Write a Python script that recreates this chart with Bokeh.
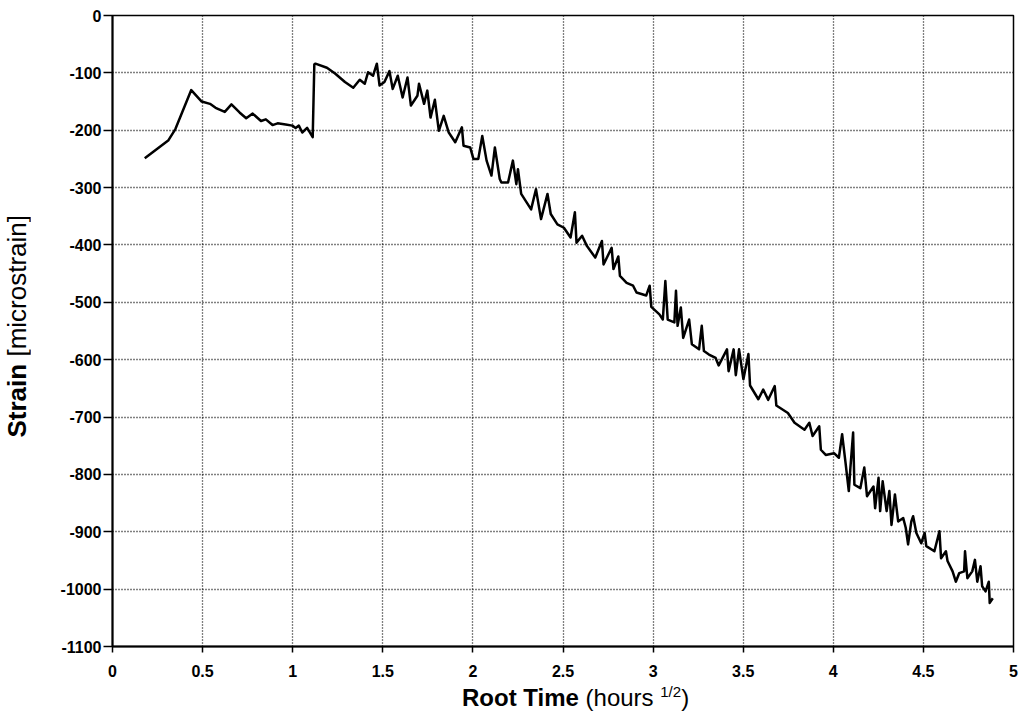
from bokeh.plotting import figure
from bokeh.models import Range1d, FixedTicker, Div
from bokeh.layouts import row, column
from bokeh.embed import file_html
from bokeh.resources import INLINE

# ---- data ----
root_time = [
    0.179, 0.309, 0.349, 0.437, 0.495, 0.541, 0.572, 0.623, 0.660, 0.705,
    0.742, 0.778, 0.824, 0.851, 0.888, 0.916, 0.961, 0.998, 1.016, 1.034,
    1.053, 1.080, 1.111, 1.120, 1.126, 1.190, 1.235, 1.290, 1.336, 1.372,
    1.400, 1.418, 1.446, 1.467, 1.482, 1.509, 1.537, 1.555, 1.583, 1.610,
    1.637, 1.656, 1.692, 1.701, 1.729, 1.747, 1.765, 1.789, 1.811, 1.838,
    1.866, 1.902, 1.939, 1.948, 1.985, 2.003, 2.030, 2.052, 2.076, 2.103,
    2.122, 2.149, 2.158, 2.195, 2.222, 2.241, 2.250, 2.268, 2.323, 2.350,
    2.378, 2.414, 2.432, 2.469, 2.505, 2.542, 2.566, 2.575, 2.606, 2.633,
    2.679, 2.716, 2.725, 2.770, 2.780, 2.807, 2.816, 2.853, 2.889, 2.908,
    2.962, 2.981, 2.990, 3.035, 3.054, 3.068, 3.081, 3.118, 3.127, 3.136,
    3.154, 3.167, 3.200, 3.215, 3.255, 3.270, 3.282, 3.310, 3.347, 3.364,
    3.410, 3.419, 3.447, 3.459, 3.477, 3.501, 3.529, 3.538, 3.584, 3.611,
    3.639, 3.675, 3.684, 3.748, 3.785, 3.840, 3.867, 3.885, 3.922, 3.931,
    3.958, 4.004, 4.031, 4.049, 4.068, 4.086, 4.095, 4.110, 4.117, 4.150,
    4.172, 4.187, 4.223, 4.232, 4.251, 4.260, 4.274, 4.296, 4.311, 4.323,
    4.342, 4.360, 4.388, 4.402, 4.415, 4.433, 4.443, 4.461, 4.488, 4.507,
    4.516, 4.561, 4.589, 4.598, 4.625, 4.634, 4.662, 4.680, 4.699, 4.726,
    4.731, 4.744, 4.771, 4.786, 4.799, 4.817, 4.826, 4.845, 4.863, 4.868,
    4.885,
]
strain = [
    -249, -218, -198, -130, -150, -154, -161, -168, -155, -169,
    -179, -171, -184, -181, -191, -188, -190, -192, -196, -192,
    -204, -196, -212, -85, -84, -91, -101, -116, -126, -112,
    -119, -99, -105, -84, -122, -116, -97, -128, -105, -143,
    -108, -157, -140, -119, -154, -131, -178, -147, -201, -175,
    -204, -221, -195, -227, -230, -250, -250, -210, -253, -279,
    -230, -285, -291, -291, -253, -294, -268, -311, -338, -303,
    -355, -311, -346, -364, -370, -387, -343, -396, -384, -402,
    -422, -393, -434, -405, -442, -420, -454, -466, -471, -483,
    -488, -471, -508, -521, -530, -463, -530, -535, -480, -541,
    -509, -562, -530, -573, -582, -541, -585, -591, -597, -610,
    -582, -620, -582, -627, -582, -634, -590, -645, -669, -652,
    -670, -646, -680, -693, -710, -722, -710, -733, -716, -757,
    -766, -763, -771, -730, -780, -829, -788, -727, -818, -824,
    -788, -838, -821, -859, -806, -864, -812, -864, -829, -888,
    -835, -882, -876, -893, -922, -882, -873, -902, -920, -902,
    -925, -934, -899, -946, -934, -951, -969, -987, -972, -969,
    -934, -981, -969, -949, -987, -960, -995, -1004, -987, -1024,
    -1016,
]
x_ticks = [0, 0.5, 1, 1.5, 2, 2.5, 3, 3.5, 4, 4.5, 5]
x_tick_labels = ["0", "0.5", "1", "1.5", "2", "2.5", "3", "3.5", "4", "4.5", "5"]
y_ticks = [-1100, -1000, -900, -800, -700, -600, -500, -400, -300, -200, -100, 0]
y_tick_labels = ["-1100", "-1000", "-900", "-800", "-700", "-600", "-500",
                 "-400", "-300", "-200", "-100", "0"]
x_title_bold = "Root Time"
x_title_rest = "(hours "
x_title_sup = "1/2"
y_title_bold = "Strain"
y_title_rest = "[microstrain]"

FONT = "Liberation Sans"
YDIV_W = 30
FIG_W, FIG_H = 989, 684
XDIV_H = 36

p = figure(width=FIG_W, height=FIG_H,
           x_range=Range1d(0, 5), y_range=Range1d(-1100, 0),
           output_backend="svg", toolbar_location=None,
           min_border_left=82, min_border_right=6,
           min_border_top=15, min_border_bottom=38)
p.background_fill_color = "white"
p.border_fill_color = "white"
p.outline_line_color = "black"
p.outline_line_width = 1.5

p.line(root_time, strain, line_color="black", line_width=2.5, line_join="round")

for ax, ticks, labels in ((p.xaxis, x_ticks, x_tick_labels), (p.yaxis, y_ticks, y_tick_labels)):
    ax.ticker = FixedTicker(ticks=ticks)
    ax.major_label_overrides = {t: l for t, l in zip(ticks, labels)}
    ax.major_label_text_font = FONT
    ax.major_label_text_font_style = "bold"
    ax.major_label_text_font_size = "16px"
    ax.major_label_text_color = "black"
    ax.axis_line_color = "black"
    ax.axis_line_width = 2
    ax.major_tick_line_color = "black"
    ax.major_tick_line_width = 1.5
    ax.major_tick_in = 0
    ax.minor_tick_line_color = None

p.xaxis.major_tick_out = 6
p.xaxis.major_label_standoff = 12
p.yaxis.major_tick_out = 9
p.yaxis.major_label_standoff = 2

for g, ticks in ((p.xgrid, x_ticks), (p.ygrid, y_ticks)):
    g.ticker = FixedTicker(ticks=ticks)
    g.grid_line_color = "black"
    g.grid_line_dash = "1 2"
    g.grid_line_width = 1.3
    g.grid_line_alpha = 1.0

ydiv = Div(
    text=(f'<div style="width:{YDIV_W + 4}px;height:652px;display:flex;align-items:center;'
          f'justify-content:center;">'
          f'<span style="writing-mode:vertical-rl;transform:rotate(180deg);'
          f'font-family:\'{FONT}\';font-size:26px;color:black;white-space:nowrap;'
          f'line-height:1;">'
          f'<b>{y_title_bold}</b> {y_title_rest}</span></div>'),
    width=YDIV_W, height=FIG_H, margin=(0, 0, 0, 0),
    styles={"overflow": "visible"},
)

xdiv = Div(
    text=(f'<div style="position:relative;width:{YDIV_W + FIG_W}px;height:{XDIV_H}px;">'
          f'<span style="position:absolute;left:462px;top:-3px;font-family:\'{FONT}\';'
          f'font-size:24px;color:black;white-space:nowrap;">'
          f'<b>{x_title_bold}</b> {x_title_rest}'
          f'<sup style="font-size:15px;">{x_title_sup}</sup>)</span></div>'),
    width=YDIV_W + FIG_W, height=XDIV_H, margin=(0, 0, 0, 0),
    styles={"overflow": "visible"},
)

layout = column(row(ydiv, p, spacing=0), xdiv, spacing=0)

open("out.html", "w").write(file_html(layout, INLINE))
